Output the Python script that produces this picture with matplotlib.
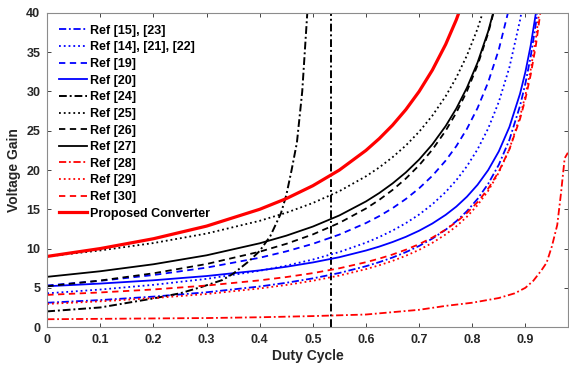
import numpy as np
import matplotlib.pyplot as plt

plt.rcParams['font.family'] = ['Liberation Sans', 'DejaVu Sans']

nan = np.nan

# duty cycle grid shared by most curves
duty = [0, 0.1, 0.2, 0.3, 0.4, 0.45, 0.5, 0.55, 0.6, 0.625, 0.65, 0.675, 0.7,
        0.725, 0.75, 0.77, 0.79, 0.81, 0.83, 0.85, 0.87, 0.89, 0.9, 0.91, 0.92, 0.93]

g_15_23 = [3.1, 3.44, 3.88, 4.43, 5.17, 5.64, 6.2, 6.89, 7.75, 8.27, 8.86, 9.54, 10.33,
           11.27, 12.4, 13.48, 14.76, 16.32, 18.24, 20.67, 23.85, 28.18, 31.0, 34.44, 38.75, 44.29]
g_14_21_22 = [4.3, 4.78, 5.38, 6.14, 7.17, 7.82, 8.6, 9.56, 10.75, 11.47, 12.29, 13.23, 14.33,
              15.64, 17.2, 18.7, 20.48, 22.63, 25.29, 28.67, 33.08, 39.09, 43.0, nan, nan, nan]
g_19 = [5.3, 5.89, 6.63, 7.57, 8.83, 9.64, 10.6, 11.78, 13.25, 14.13, 15.14, 16.31, 17.67,
        19.27, 21.2, 23.04, 25.24, 27.89, 31.18, 35.33, 40.77, nan, nan, nan, nan, nan]
g_20 = [5.2, 5.54, 5.96, 6.5, 7.22, 7.68, 8.23, 8.9, 9.75, 10.25, 10.83, 11.49, 12.27,
        13.19, 14.29, 15.34, 16.6, 18.12, 19.99, 22.37, 25.48, 29.72, 32.47, 35.84, 40.05, 45.46]
g_25 = [9.0, 9.76, 10.7, 11.91, 13.53, 14.56, 15.8, 17.31, 19.2, 20.33, 21.63, 23.12, 24.87,
        26.93, 29.4, 31.77, 34.58, 37.99, 42.2, nan, nan, nan, nan, nan, nan, nan]
g_26 = [5.2, 5.93, 6.85, 8.03, 9.6, 10.6, 11.8, 13.27, 15.1, 16.2, 17.46, 18.91, 20.6,
        22.6, 25.0, 27.3, 30.03, 33.34, 37.42, 42.6, nan, nan, nan, nan, nan, nan]
g_27 = [6.4, 7.11, 8.0, 9.14, 10.67, 11.64, 12.8, 14.22, 16.0, 17.07, 18.29, 19.69, 21.33,
        23.27, 25.6, 27.83, 30.48, 33.68, 37.65, 42.67, nan, nan, nan, nan, nan, nan]
g_29 = [2.95, 3.28, 3.69, 4.21, 4.92, 5.36, 5.9, 6.56, 7.38, 7.87, 8.43, 9.08, 9.83,
        10.73, 11.8, 12.83, 14.05, 15.53, 17.35, 19.67, 22.69, 26.82, 29.5, 32.78, 36.88, 42.14]
g_30 = [4.1, 4.41, 4.79, 5.29, 5.95, 6.37, 6.87, 7.49, 8.26, 8.72, 9.24, 9.85, 10.56,
        11.4, 12.41, 13.37, 14.52, 15.91, 17.62, 19.8, 22.64, 26.51, 29.03, 32.11, 35.96, 40.9]
g_proposed = [9.0, 10.0, 11.25, 12.86, 15.0, 16.36, 18.0, 20.0, 22.5, 24.0, 25.71, 27.69, 30.0,
              32.73, 36.0, 39.13, 42.86, nan, nan, nan, nan, nan, nan, nan, nan, nan]

# Ref [24]
duty_24 = [0, 0.1, 0.2, 0.25, 0.29, 0.33, 0.35, 0.38, 0.4, 0.42, 0.44, 0.45,
           0.46, 0.47, 0.48, 0.49]
g_24 = [2.0, 2.5, 3.65, 4.3, 5.1, 6.0, 6.8, 8.4, 9.7, 11.6, 14.5, 16.8,
        20.0, 23.5, 30.0, 40.5]

# Ref [28]
duty_28 = [0, 0.1, 0.2, 0.3, 0.4, 0.5, 0.6, 0.7, 0.75, 0.8, 0.85, 0.88, 0.9,
           0.915, 0.93, 0.94, 0.95, 0.96, 0.967, 0.974, 0.98]
g_28 = [1.0, 1.05, 1.1, 1.15, 1.25, 1.4, 1.6, 2.2, 2.7, 3.1, 3.7, 4.3, 5.0,
        5.9, 7.2, 8.2, 10.3, 13.0, 17.0, 21.5, 22.2]

# vertical marker line
duty_mark = 0.535

dashdot = (4, 1.5, 1, 1.5)
dashed = (3.5, 2.5)

fig = plt.figure(figsize=(5.69, 3.70), dpi=100)
ax = fig.add_axes([0.083, 0.116, 0.915, 0.849])

ax.axvline(duty_mark, color='black', ls='-.', dashes=dashdot, lw=1.4)
ax.plot(duty, g_15_23, color='blue', dashes=dashdot, lw=1.3, label='Ref [15], [23]')
ax.plot(duty, g_14_21_22, color='blue', ls=':', lw=1.3, label='Ref [14], [21], [22]')
ax.plot(duty, g_19, color='blue', dashes=dashed, lw=1.3, label='Ref [19]')
ax.plot(duty, g_20, color='blue', ls='-', lw=1.3, label='Ref [20]')
ax.plot(duty_24, g_24, color='black', dashes=dashdot, lw=1.4, label='Ref [24]')
ax.plot(duty, g_25, color='black', ls=':', lw=1.3, label='Ref [25]')
ax.plot(duty, g_26, color='black', dashes=dashed, lw=1.3, label='Ref [26]')
ax.plot(duty, g_27, color='black', ls='-', lw=1.3, label='Ref [27]')
ax.plot(duty_28, g_28, color='red', dashes=dashdot, lw=1.3, label='Ref [28]')
ax.plot(duty, g_29, color='red', ls=':', lw=1.3, label='Ref [29]')
ax.plot(duty, g_30, color='red', dashes=dashed, lw=1.3, label='Ref [30]')
ax.plot(duty, g_proposed, color='red', ls='-', lw=2.3, label='Proposed Converter')

ax.set_xlim(0, 0.98)
ax.set_ylim(0, 40)
ax.set_xticks(np.arange(0, 0.95, 0.1))
ax.set_xticklabels(['0', '0.1', '0.2', '0.3', '0.4', '0.5', '0.6', '0.7', '0.8', '0.9'])
ax.set_yticks(range(0, 45, 5))
ax.tick_params(direction='in', top=True, right=True, length=3, width=0.6,
               labelsize=9, colors='#262626', pad=5)
for t in ax.get_xticklabels() + ax.get_yticklabels():
    t.set_fontweight('bold')
for s in ax.spines.values():
    s.set_color('#8c8c8c')
    s.set_linewidth(0.8)

ax.set_xlabel('Duty Cycle', fontsize=10, fontweight='bold', color='#262626', labelpad=2)
ax.set_ylabel('Voltage Gain', fontsize=10, fontweight='bold', color='#262626', labelpad=4)

leg = ax.legend(loc='upper left', frameon=False, handlelength=2.2,
                labelspacing=0.37, borderaxespad=0.55, handletextpad=0.3,
                prop={'weight': 'bold', 'size': 9})

fig.savefig('out.png', dpi=100)
